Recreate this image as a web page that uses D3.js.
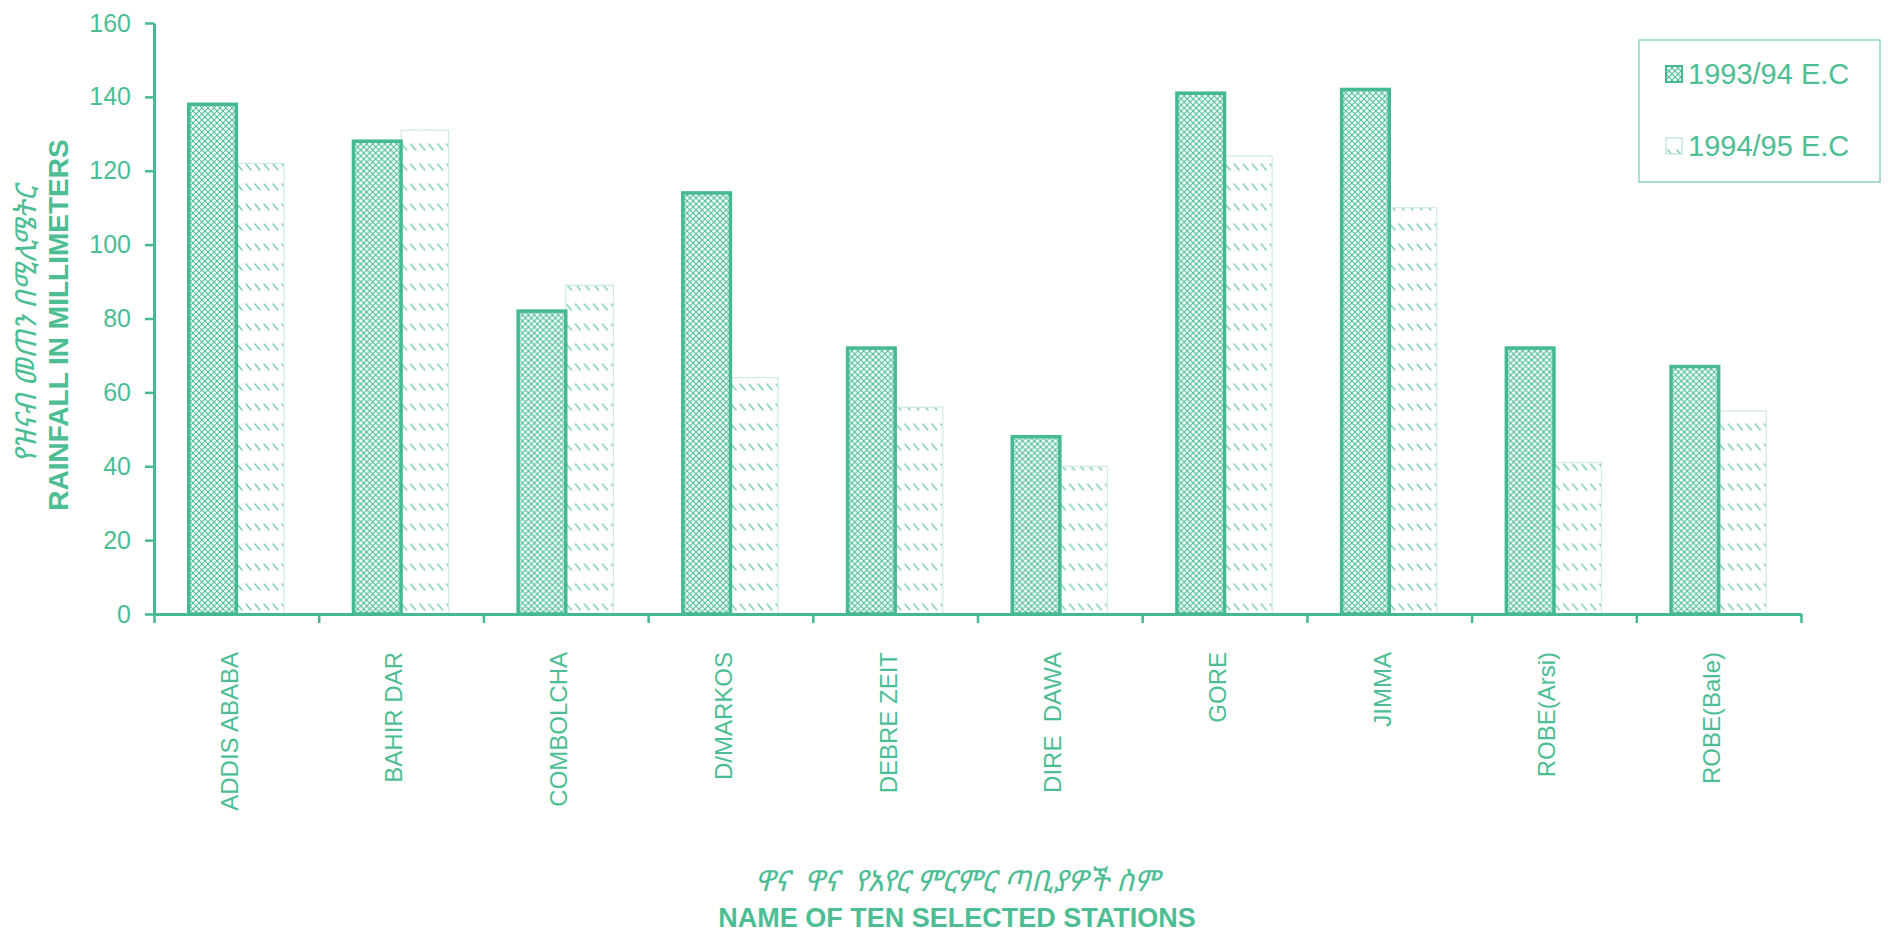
<!DOCTYPE html>
<html>
<head>
<meta charset="utf-8">
<script src="https://cdn.jsdelivr.net/npm/d3@7"></script>
<style>
  body { margin: 0; background: #ffffff; }
  svg { display: block; }
  text { font-family: Arial, "Liberation Sans", "DejaVu Sans", sans-serif; }
  .ethi { font-family: "Noto Sans Ethiopic", "Abyssinica SIL", "Noto Serif Ethiopic", "Noto Sans", "DejaVu Sans", sans-serif; }
</style>
</head>
<body>
<svg id="chart" width="1892" height="933"></svg>
<script>
// ---------- data ----------
const stations = ["ADDIS ABABA", "BAHIR DAR", "COMBOLCHA", "D/MARKOS", "DEBRE ZEIT",
                  "DIRE  DAWA", "GORE", "JIMMA", "ROBE(Arsi)", "ROBE(Bale)"];
const seriesNames = ["1993/94 E.C", "1994/95 E.C"];
const rain1993_94 = [138, 128, 82, 114, 72, 48, 141, 142, 72, 67];
const rain1994_95 = [122, 131, 89, 64, 56, 40, 124, 110, 41, 55];
const yTickValues = [0, 20, 40, 60, 80, 100, 120, 140, 160];
const yTitleAmharic = "የዝናብ መጠን በሚሊሜትር";
const yTitleEnglish = "RAINFALL IN MILLIMETERS";
const xTitleAmharic = "ዋና  ዋና  የአየር ምርምር ጣቢያዎች ስም";
const xTitleEnglish = "NAME OF TEN SELECTED STATIONS";

// ---------- styling ----------
const GREEN = "#45b98f";
const TEXT_GREEN = "#4dbd94";
const LIGHT = "#7ccfae";

const svg = d3.select("#chart");
const W = 1892, H = 933;
const margin = { left: 154, right: 91, top: 23, bottom: 319 };
const plotL = margin.left, plotR = W - margin.right;
const plotT = margin.top, plotB = H - margin.bottom;

// patterns
const defs = svg.append("defs");
const pA = defs.append("pattern").attr("id", "patA")
  .attr("patternUnits", "userSpaceOnUse").attr("width", 6).attr("height", 6);
pA.append("rect").attr("width", 6).attr("height", 6).attr("fill", "#f3fbf8");
pA.append("path").attr("d", "M0,0 L6,6 M-1,5 L1,7 M5,-1 L7,1")
  .attr("stroke", "#52bf98").attr("stroke-width", 1.05);
pA.append("path").attr("d", "M6,0 L0,6 M-1,1 L1,-1 M5,7 L7,5")
  .attr("stroke", "#52bf98").attr("stroke-width", 1.05);

const pB = defs.append("pattern").attr("id", "patB")
  .attr("patternUnits", "userSpaceOnUse").attr("width", 9).attr("height", 20);
pB.append("rect").attr("width", 9).attr("height", 20).attr("fill", "#ffffff");
pB.append("path").attr("d", "M2,4 L7,10")
  .attr("stroke", LIGHT).attr("stroke-width", 1.4).attr("stroke-linecap", "round");

// ---------- scales ----------
const x0 = d3.scaleBand().domain(stations).range([plotL, plotR]).padding(0);
const x1 = d3.scaleBand().domain(seriesNames).range([0, x0.bandwidth()])
  .paddingInner(0).paddingOuter(0.73);
const y = d3.scaleLinear().domain([0, 160]).range([plotB, plotT]);
const xIdx = d3.scaleLinear().domain([0, stations.length]).range([plotL, plotR]);

const rows = stations.map((s, i) => ({ station: s, values: [rain1993_94[i], rain1994_95[i]] }));

// ---------- bars ----------
const groups = svg.append("g").selectAll("g").data(rows).join("g")
  .attr("transform", d => `translate(${x0(d.station)},0)`);

// second series (light, behind)
groups.append("rect")
  .attr("x", x1(seriesNames[1]))
  .attr("y", d => y(d.values[1]))
  .attr("width", x1.bandwidth())
  .attr("height", d => y(0) - y(d.values[1]))
  .attr("fill", "url(#patB)")
  .attr("stroke", "#cfece0").attr("stroke-width", 1.2);

// first series (thick border)
groups.append("rect")
  .attr("x", x1(seriesNames[0]))
  .attr("y", d => y(d.values[0]))
  .attr("width", x1.bandwidth())
  .attr("height", d => y(0) - y(d.values[0]))
  .attr("fill", "url(#patA)")
  .attr("stroke", GREEN).attr("stroke-width", 3.5);

// ---------- axes ----------
const yAxis = svg.append("g").attr("transform", `translate(${plotL},0)`)
  .call(d3.axisLeft(y).tickValues(yTickValues).tickSizeInner(9).tickSizeOuter(0).tickPadding(14));
yAxis.select(".domain").attr("stroke", GREEN).attr("stroke-width", 3);
yAxis.selectAll(".tick line").attr("stroke", GREEN).attr("stroke-width", 2.5);
yAxis.selectAll(".tick text").attr("fill", TEXT_GREEN)
  .style("font-size", "25px").style("font-family", "Arial, 'Liberation Sans', sans-serif");

const xAxis = svg.append("g").attr("transform", `translate(0,${plotB})`)
  .call(d3.axisBottom(xIdx).tickValues(d3.range(stations.length + 1))
        .tickFormat("").tickSizeInner(9).tickSizeOuter(0));
xAxis.select(".domain").attr("stroke", GREEN).attr("stroke-width", 3);
xAxis.selectAll(".tick line").attr("stroke", GREEN).attr("stroke-width", 2.5);

// category labels (vertical)
svg.append("g").selectAll("text").data(stations).join("text")
  .attr("transform", d => `translate(${x0(d) + x0.bandwidth() / 2 - 7},${plotB + 38}) rotate(-90)`)
  .attr("text-anchor", "end")
  .attr("dy", "0.35em")
  .attr("fill", TEXT_GREEN)
  .style("font-size", "24px")
  .style("white-space", "pre")
  .text(d => d);

// ---------- titles ----------
const yTitleCy = 325;
svg.append("text").attr("class", "ethi")
  .attr("transform", `translate(36,${yTitleCy}) rotate(-90)`)
  .attr("text-anchor", "middle").attr("fill", TEXT_GREEN)
  .style("font-size", "29px").style("font-style", "italic")
  .text(yTitleAmharic);
svg.append("text")
  .attr("transform", `translate(68,${yTitleCy}) rotate(-90)`)
  .attr("text-anchor", "middle").attr("fill", TEXT_GREEN)
  .style("font-size", "28px").style("font-weight", "bold")
  .text(yTitleEnglish);

const xTitleCx = 957;
svg.append("text").attr("class", "ethi")
  .attr("x", xTitleCx).attr("y", 891)
  .attr("text-anchor", "middle").attr("fill", TEXT_GREEN)
  .style("font-size", "29px").style("font-style", "italic").style("white-space", "pre")
  .text(xTitleAmharic);
svg.append("text")
  .attr("x", xTitleCx).attr("y", 927)
  .attr("text-anchor", "middle").attr("fill", TEXT_GREEN)
  .style("font-size", "27px").style("font-weight", "bold")
  .text(xTitleEnglish);

// ---------- legend ----------
const legend = svg.append("g");
legend.append("rect")
  .attr("x", 1639).attr("y", 40).attr("width", 241).attr("height", 142)
  .attr("fill", "#ffffff").attr("stroke", "#8fd5b9").attr("stroke-width", 1.5);
const legendItems = legend.selectAll("g.item").data(seriesNames).join("g")
  .attr("class", "item")
  .attr("transform", (d, i) => `translate(1666,${74 + i * 72})`);
legendItems.append("rect")
  .attr("x", 0).attr("y", -8).attr("width", 16).attr("height", 16)
  .attr("fill", (d, i) => i === 0 ? "url(#patA)" : "url(#patB)")
  .attr("stroke", (d, i) => i === 0 ? GREEN : "#b9e3d2")
  .attr("stroke-width", (d, i) => i === 0 ? 2 : 1.2);
legendItems.append("text")
  .attr("x", 22).attr("dy", "0.36em")
  .attr("fill", TEXT_GREEN)
  .style("font-size", "29px")
  .text(d => d);
</script>
</body>
</html>
